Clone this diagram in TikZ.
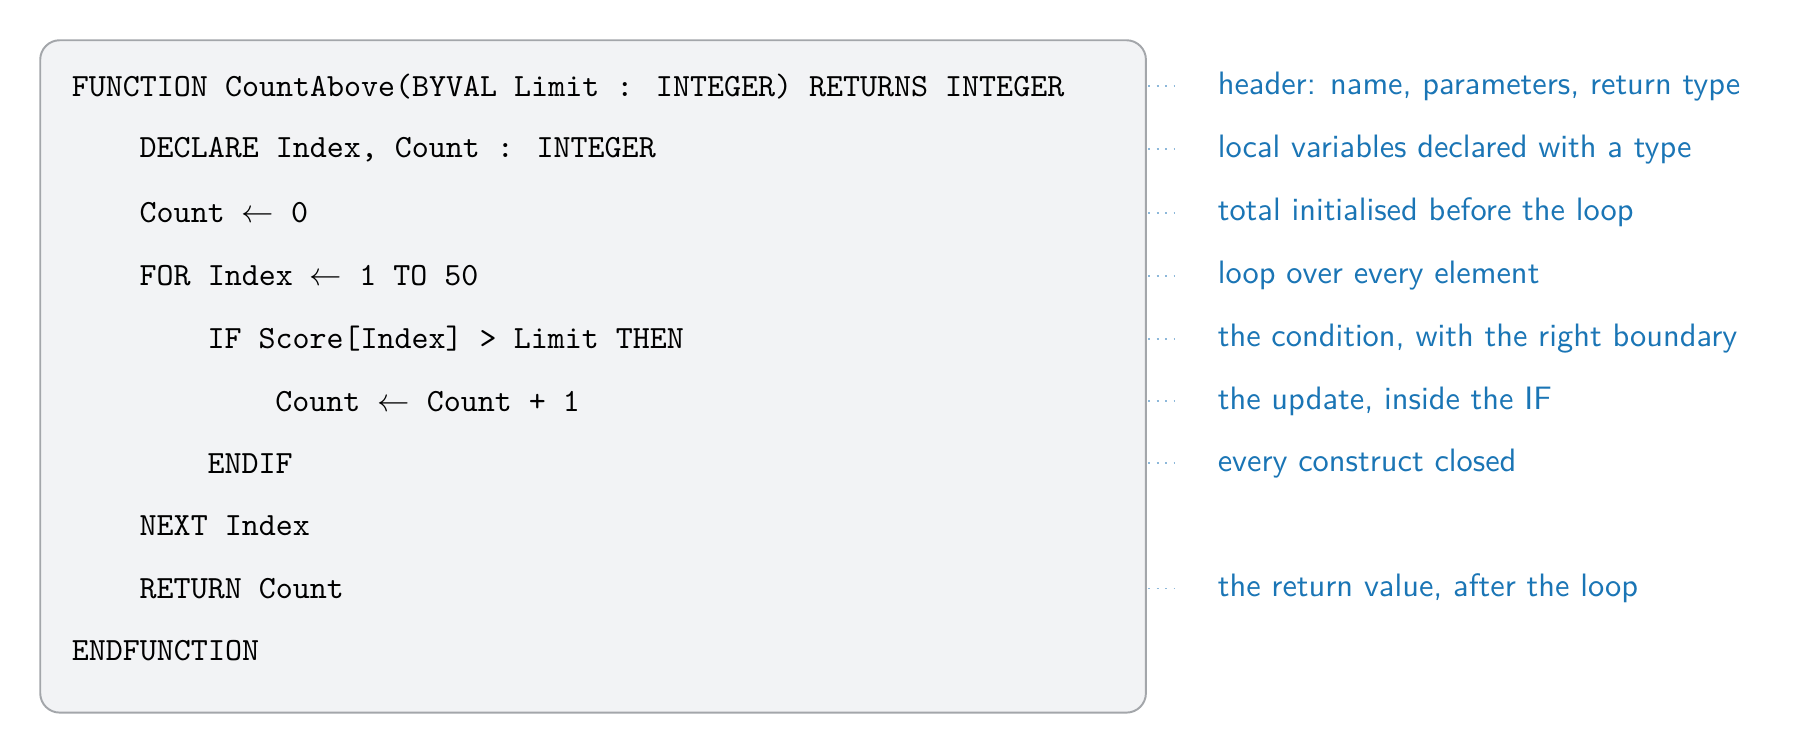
\documentclass[tikz,border=0pt]{standalone}
\usepackage{tikz}
\usetikzlibrary{positioning}
\definecolor{boxfill}{HTML}{F2F3F5}
\definecolor{boxline}{HTML}{A3A6AA}
\definecolor{notecol}{HTML}{1A75B5}
\definecolor{leadcol}{HTML}{8DB8DA}
\tikzset{
  code/.style={anchor=west, inner sep=0pt, font=\ttfamily},
  note/.style={anchor=west, inner sep=0pt, font=\sffamily, text=notecol},
  lead/.style={leadcol, dotted, line width=0.6pt}
}
\begin{document}
\begin{tikzpicture}[x=0.01247cm, y=-0.01247cm]
\useasboundingbox (0,0) rectangle (1560,653.4);
\draw[boxline, fill=boxfill, rounded corners=6pt, line width=0.6pt] (35,35) rectangle (997,620);
\coordinate (edge) at (997,0);

\node[code] (l1) at (62,75) {FUNCTION CountAbove(BYVAL Limit : INTEGER) RETURNS INTEGER};
\node[code] (l2) at (121,130) {DECLARE Index, Count : INTEGER};
\node[code] (l3) at (121,185) {Count $\leftarrow$ 0};
\node[code] (l4) at (121,240) {FOR Index $\leftarrow$ 1 TO 50};
\node[code] (l5) at (180,295) {IF Score[Index] > Limit THEN};
\node[code] (l6) at (239,349) {Count $\leftarrow$ Count + 1};
\node[code] (l7) at (180,403) {ENDIF};
\node[code] (l8) at (121,457) {NEXT Index};
\node[code] (l9) at (121,512) {RETURN Count};
\node[code] (l10) at (62,566) {ENDFUNCTION};

% notes on the right
\foreach \y/\name/\txt in {75/n1/{header: name, parameters, return type},
  130/n2/{local variables declared with a type},
  185/n3/{total initialised before the loop},
  240/n4/{loop over every element},
  295/n5/{the condition, with the right boundary},
  349/n6/{the update, inside the IF},
  403/n7/{every construct closed},
  512/n9/{the return value, after the loop}} {
  \coordinate (s\name) at (999,\y);
  \node[note] (\name) at (1059,\y) {\txt};
  \draw[lead] (s\name) -- ([xshift=-12]\name.west);
}
\end{tikzpicture}
\end{document}
